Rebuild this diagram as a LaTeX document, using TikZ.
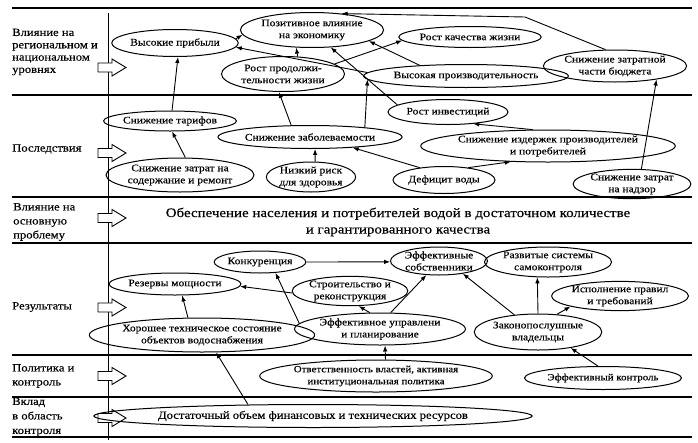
\documentclass[tikz,border=0pt]{standalone}
\usepackage{fontspec}
\setmainfont{Liberation Serif}[FakeStretch=1.15,FakeBold=0.35]
\usetikzlibrary{arrows.meta,shapes.geometric}
\begin{document}
\begin{tikzpicture}[x=1pt,y=-1pt,
  ell/.style={draw, ellipse, line width=1pt, inner sep=0pt, align=center, font=\fontsize{10}{12}\selectfont},
  arr/.style={-{Latex[length=6pt,width=4.5pt]}, line width=0.9pt},
  sepline/.style={line width=1.4pt},
  lbl/.style={anchor=west, align=left, inner sep=0pt, font=\fontsize{11}{12.3}\selectfont},
  barrow/.style={draw, line width=0.9pt, fill=white}]
\useasboundingbox (0,0) rectangle (698,442);
% bands
\draw[sepline] (12,8) -- (692,8);
\draw[sepline] (12,95) -- (692,95);
\draw[sepline] (12,197) -- (692,197);
\draw[sepline] (12,243) -- (692,243);
\draw[sepline] (12,355) -- (692,355);
\draw[sepline] (12,397) -- (692,397);
\draw[sepline] (12,437) -- (692,437);
\draw[line width=0.9pt] (108,13) -- (108,440);
% left labels
\node[lbl] (L1) at (12,52) {Влияние на\\региональном и\\национальном\\уровнях};
\node[lbl] (L2) at (12,149) {Последствия};
\node[lbl, font=\fontsize{11}{14}\selectfont] (L3) at (13,222) {Влияние на\\основную\\проблему};
\node[lbl] (L4) at (12,307) {Результаты};
\node[lbl, font=\fontsize{11}{14}\selectfont] (L5) at (12,376) {Политика и\\контроль};
\node[lbl, font=\fontsize{11}{14.5}\selectfont] (L6) at (12,417) {Вклад\\в область\\контроля};
% block arrows
\foreach \yy in {67.5,153,218,307.5,376,418}{
  \draw[barrow, shift={(112,\yy)}] (-14,-4.5) -- (0,-4.5) -- (0,-8.5) -- (14,0) -- (0,8.5) -- (0,4.5) -- (-14,4.5) -- cycle;
}
% middle text
\node[font=\fontsize{13}{16.5}\selectfont, align=center, inner sep=0pt] (mid) at (398,222) {Обеспечение населения и потребителей водой в достаточном количестве\\и гарантированного качества};
% top band
\node[ell, minimum width=105pt, minimum height=27pt] (hp) at (175,43) {Высокие прибыли};
\node[ell, minimum width=121pt, minimum height=35pt] (pv) at (312,30) {Позитивное влияние\\на экономику};
\node[ell, minimum width=123pt, minimum height=35pt] (rpj) at (283,74) {Рост продолжи-\\тельности жизни};
\node[ell, minimum width=124pt, minimum height=21pt] (rkj) at (470,37) {Рост качества жизни};
\node[ell, minimum width=157pt, minimum height=23pt] (vp) at (466,76) {Высокая производительность};
\node[ell, minimum width=115pt, minimum height=32pt] (szb) at (615,66) {Снижение затратной\\части бюджета};
% consequences
\node[ell, minimum width=110pt, minimum height=20pt] (st) at (170,121) {Снижение тарифов};
\node[ell, minimum width=150pt, minimum height=23pt] (sz) at (310,137) {Снижение заболеваемости};
\node[ell, minimum width=125pt, minimum height=34pt] (szr) at (180,175) {Снижение затрат на\\содержание и ремонт};
\node[ell, minimum width=88pt, minimum height=30pt] (nr) at (311,177) {Низкий риск\\для здоровья};
\node[ell, minimum width=120pt, minimum height=25pt] (ri) at (448,112) {Рост инвестиций};
\node[ell, minimum width=211pt, minimum height=32pt] (si) at (548,146) {Снижение издержек производителей\\и потребителей};
\node[ell, minimum width=102pt, minimum height=27pt] (dv) at (444,180) {Дефицит воды};
\node[ell, minimum width=105pt, minimum height=28pt] (szn) at (632,184) {Снижение затрат\\на надзор};
% results
\node[ell, minimum width=85pt, minimum height=22pt] (kon) at (260,262) {Конкуренция};
\node[ell, minimum width=88pt, minimum height=28pt] (es) at (439,261) {Эффективные\\собственники};
\node[ell, minimum width=105pt, minimum height=30pt] (rs) at (548,262) {Развитые системы\\самоконтроля};
\node[ell, minimum width=120pt, minimum height=22pt] (rm) at (175,284) {Резервы мощности};
\node[ell, minimum width=105pt, minimum height=28pt] (sr) at (350,291) {Строительство и\\реконструкция};
\node[ell, minimum width=115pt, minimum height=28pt] (ip) at (620,296) {Исполнение правил\\и требований};
\node[ell, minimum width=178pt, minimum height=34pt] (hts) at (202,335) {Хорошее техническое состояние\\объектов водоснабжения};
\node[ell, minimum width=124pt, minimum height=32pt] (eu) at (380,329) {Эффективное управлени\\и планирование};
\node[ell, minimum width=113pt, minimum height=36pt] (zv) at (538,332) {Законопослушные\\владельцы};
% policy & input
\node[ell, minimum width=208pt, minimum height=32pt, font=\fontsize{9.5}{12}\selectfont] (ov) at (376,376) {Ответственность властей, активная\\институциональная политика};
\node[ell, minimum width=124pt, minimum height=23pt, font=\fontsize{9.5}{12}\selectfont] (ek) at (603,378) {Эффективный контроль};
\node[ell, minimum width=333pt, minimum height=23pt, font=\fontsize{11}{12}\selectfont] (do) at (313,416) {Достаточный объем финансовых и технических ресурсов};
\coordinate (bend) at (525,17);
% connectors
\draw[arr] (st.79) -- (hp.282.5);
\draw[arr] (hp.4) -- (pv.184);
\draw[arr] (rpj.50.6) -- (pv.228.5);
\draw[arr] (rpj.11.5) -- (rkj.183.6);
\draw[arr] (vp.167.8) -- (pv.349.6);
\draw[arr] (vp.178) -- (hp.356.4);
\draw[arr] (ri.172.6) -- (pv.317);
\draw[arr] (sz.10.8) -- (vp.182.6);
\draw[arr] (szb.120) -- (bend) -- (pv.29);
\draw[arr] (szn.58.6) -- (szb.342.5);
\draw[arr] (szr.73.5) -- (st.281.3);
\draw[arr] (sz.148) -- (rpj.257);
\draw[arr] (nr.75) -- (sz.293.5);
\draw[arr] (dv.153.6) -- (sz.346.4);
\draw[arr] (dv.27.5) -- (si.203.3);
\draw[arr] (si.133.5) -- (ri.335.5);
\draw[arr] (hts.129.7) -- (rm.302.7);
\draw[arr] (sr.182) -- (rm.358);
\draw[arr] (eu.176) -- (kon.325.5);
\draw[arr] (kon.east) -- (es.181);
\draw[arr] (eu.122) -- (sr.300);
\draw[arr] (eu.57) -- (es.228.4);
\draw[arr] (zv.144.5) -- (es.332.6);
\draw[arr] (zv.north) -- (rs.235.8);
\draw[arr] (zv.43.5) -- (ip.192.8);
\draw[arr] (ek.113.5) -- (zv.334.2);
\draw[arr] (ov.60.6) -- (eu.287.4);
\draw[arr] (do.170.9) -- (hts.309.8);
\end{tikzpicture}
\end{document}
